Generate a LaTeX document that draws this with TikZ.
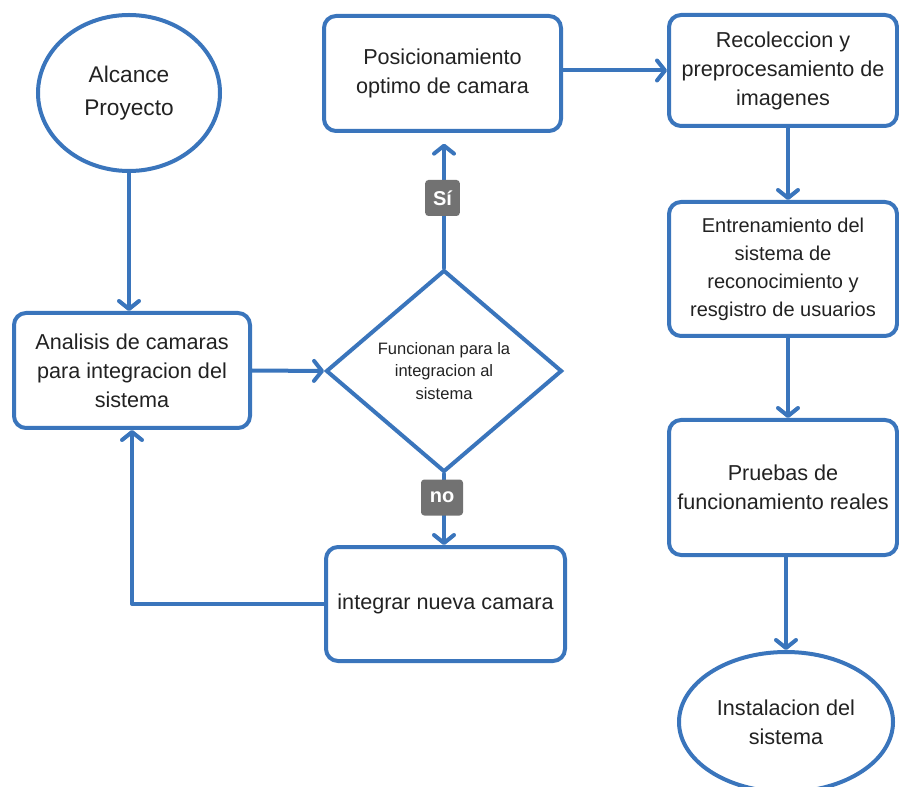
\documentclass[tikz,border=0pt]{standalone}
\usepackage{fontspec}
\setmainfont{Liberation Sans}
\usetikzlibrary{arrows.meta,shapes.geometric}
\definecolor{flowblue}{HTML}{3A75BC}
\definecolor{ink}{HTML}{222222}
\definecolor{tagfill}{HTML}{727272}
\begin{document}
\begin{tikzpicture}[x=0.75pt,y=-0.75pt,
  base/.style={draw=flowblue, line width=3pt, fill=white, text=ink, align=center,
    inner sep=0pt, font=\fontsize{16.2}{21.75}\selectfont},
  stepbox/.style={base, rectangle, rounded corners=9pt},
  terminal/.style={base, ellipse},
  decision/.style={base, diamond, font=\fontsize{12.4}{16.9}\selectfont},
  flow/.style={draw=flowblue, line width=3pt, line cap=round, line join=round,
    -{Straight Barb[length=6pt,width=15pt,line cap=round,line join=round]}},
  answer/.style={fill=tagfill, text=white, rounded corners=2.5pt, inner sep=0pt,
    font=\bfseries\fontsize{15}{15}\selectfont, minimum height=27pt}
]
\useasboundingbox (0,0) rectangle (899,787);

% start / end terminals
\node[terminal, minimum width=136.5pt, minimum height=117pt,
      font=\fontsize{17}{24.5}\selectfont] (alc) at (129,93) {Alcance\\Proyecto};
\node[terminal, minimum width=160.5pt, minimum height=105pt] (ins) at (786,722)
  {Instalacion del\\sistema};

% process steps
\node[stepbox, minimum width=177pt, minimum height=86.25pt] (ana) at (132,370.5)
  {Analisis de camaras\\para integracion del\\sistema};
\node[stepbox, minimum width=177.75pt, minimum height=86.25pt] (pos) at (442.5,73.5)
  {Posicionamiento\\optimo de camara};
\node[stepbox, minimum width=171pt, minimum height=83.25pt] (rec) at (783,70.5)
  {Recoleccion y\\preprocesamiento de\\imagenes};
\node[stepbox, minimum width=171pt, minimum height=100.5pt,
      font=\fontsize{15}{21}\selectfont] (ent) at (783,269)
  {Entrenamiento del\\sistema de\\reconocimiento y\\resgistro de usuarios};
\node[stepbox, minimum width=171pt, minimum height=101.25pt] (pru) at (783,487.5)
  {Pruebas de\\funcionamiento reales};
\node[stepbox, minimum width=179.25pt, minimum height=85.5pt] (int) at (445.5,604)
  {integrar nueva camara};

% decision
\node[decision, minimum width=177pt, minimum height=151.5pt] (dec) at (444,371)
  {Funcionan para la\\integracion al\\sistema};

% connectors
\draw[flow] (alc.south) -- (alc.south |- ana.north);
\draw[flow] (ana.east) -- (dec.west);
\draw[flow, shorten >=8pt] (dec.north) -- (dec.north |- pos.south);
\draw[flow] (pos.east |- rec.west) -- (rec.west);
\draw[flow] ([xshift=3.75pt]rec.south) -- ([xshift=3.75pt]ent.north);
\draw[flow] ([xshift=3.75pt]ent.south) -- ([xshift=3.75pt]pru.north);
\draw[flow] (pru.south -| ins.north) -- (ins.north);
\draw[flow] (dec.south) -- (dec.south |- int.north);
\draw[flow] (int.west) -| (ana.south);

% branch labels
\node[answer, minimum width=26pt] (si) at (442.5,198) {Sí};
\node[answer, minimum width=31.5pt] (no) at (442,497.5) {no};
\end{tikzpicture}
\end{document}
